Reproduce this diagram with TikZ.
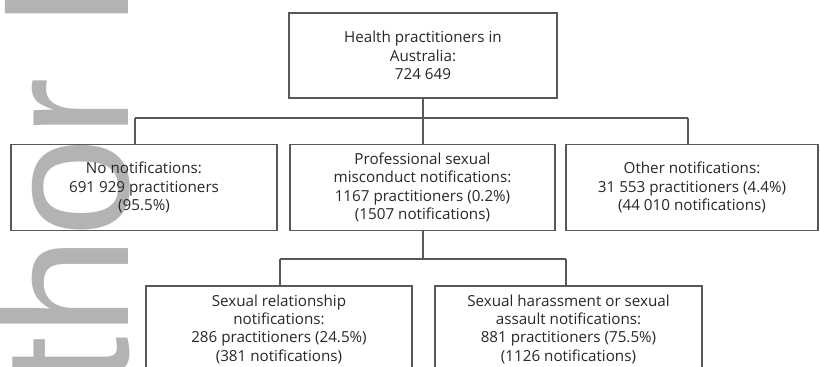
\documentclass[tikz,border=0pt]{standalone}
\usepackage{fontspec}
\setmainfont{Open Sans}
\newfontfamily\wmfont{Liberation Sans}
\definecolor{wmgray}{RGB}{179,179,179}
\definecolor{linegray}{RGB}{88,88,88}
\definecolor{txtcol}{RGB}{40,40,40}
\tikzset{
  box/.style={draw=linegray, line width=1.6pt, align=center, inner sep=0pt,
    minimum height=86pt, text=txtcol, font=\fontsize{15.2}{18.3}\selectfont},
  conn/.style={draw=linegray, line width=1.6pt},
  wm/.style={text=wmgray, inner sep=0pt, font=\wmfont\fontsize{179}{179}\selectfont}
}
\begin{document}
\begin{tikzpicture}[x=1pt,y=-1pt]
\useasboundingbox (0,0) rectangle (820,367);
\clip (0,0) rectangle (820,367);
\fill[white] (0,0) rectangle (820,367);
% watermark
\node[wm, rotate=90, anchor=base west] (wmark) at (128,605.7) {Author Manuscript};
% boxes
\node[box, minimum width=268pt, minimum height=85pt] (top) at (423,55.5)
  {Health practitioners in\\Australia:\\724 649};
\node[box, minimum width=266pt] (left) at (144,187.5)
  {No notifications:\\691 929 practitioners\\(95.5\%)};
\node[box, minimum width=265pt] (mid) at (422.5,187.5)
  {Professional sexual\\misconduct notifications:\\1167 practitioners (0.2\%)\\(1507 notifications)};
\node[box, minimum width=252pt] (right) at (692,187.5)
  {Other notifications:\\31 553 practitioners (4.4\%)\\(44 010 notifications)};
\node[box, minimum width=266pt] (bl) at (279,329)
  {Sexual relationship\\notifications:\\286 practitioners (24.5\%)\\(381 notifications)};
\node[box, minimum width=267pt] (br) at (568.5,329)
  {Sexual harassment or sexual\\assault notifications:\\881 practitioners (75.5\%)\\(1126 notifications)};
% junctions
\coordinate (j1) at (423,118);
\coordinate (jl) at (135,118);
\coordinate (jr) at (688,118);
\coordinate (j2) at (423,259);
\coordinate (jbl) at (280,259);
\coordinate (jbr) at (566,259);
% connectors
\draw[conn] (top.south) -- (j1);
\draw[conn] (jl) -- (jr);
\draw[conn] (jl) -- (jl |- left.north);
\draw[conn] (j1) -- (j1 |- mid.north);
\draw[conn] (jr) -- (jr |- right.north);
\draw[conn] (j2 |- mid.south) -- (j2);
\draw[conn] (jbl) -- (jbr);
\draw[conn] (jbl) -- (jbl |- bl.north);
\draw[conn] (jbr) -- (jbr |- br.north);
\end{tikzpicture}
\end{document}
